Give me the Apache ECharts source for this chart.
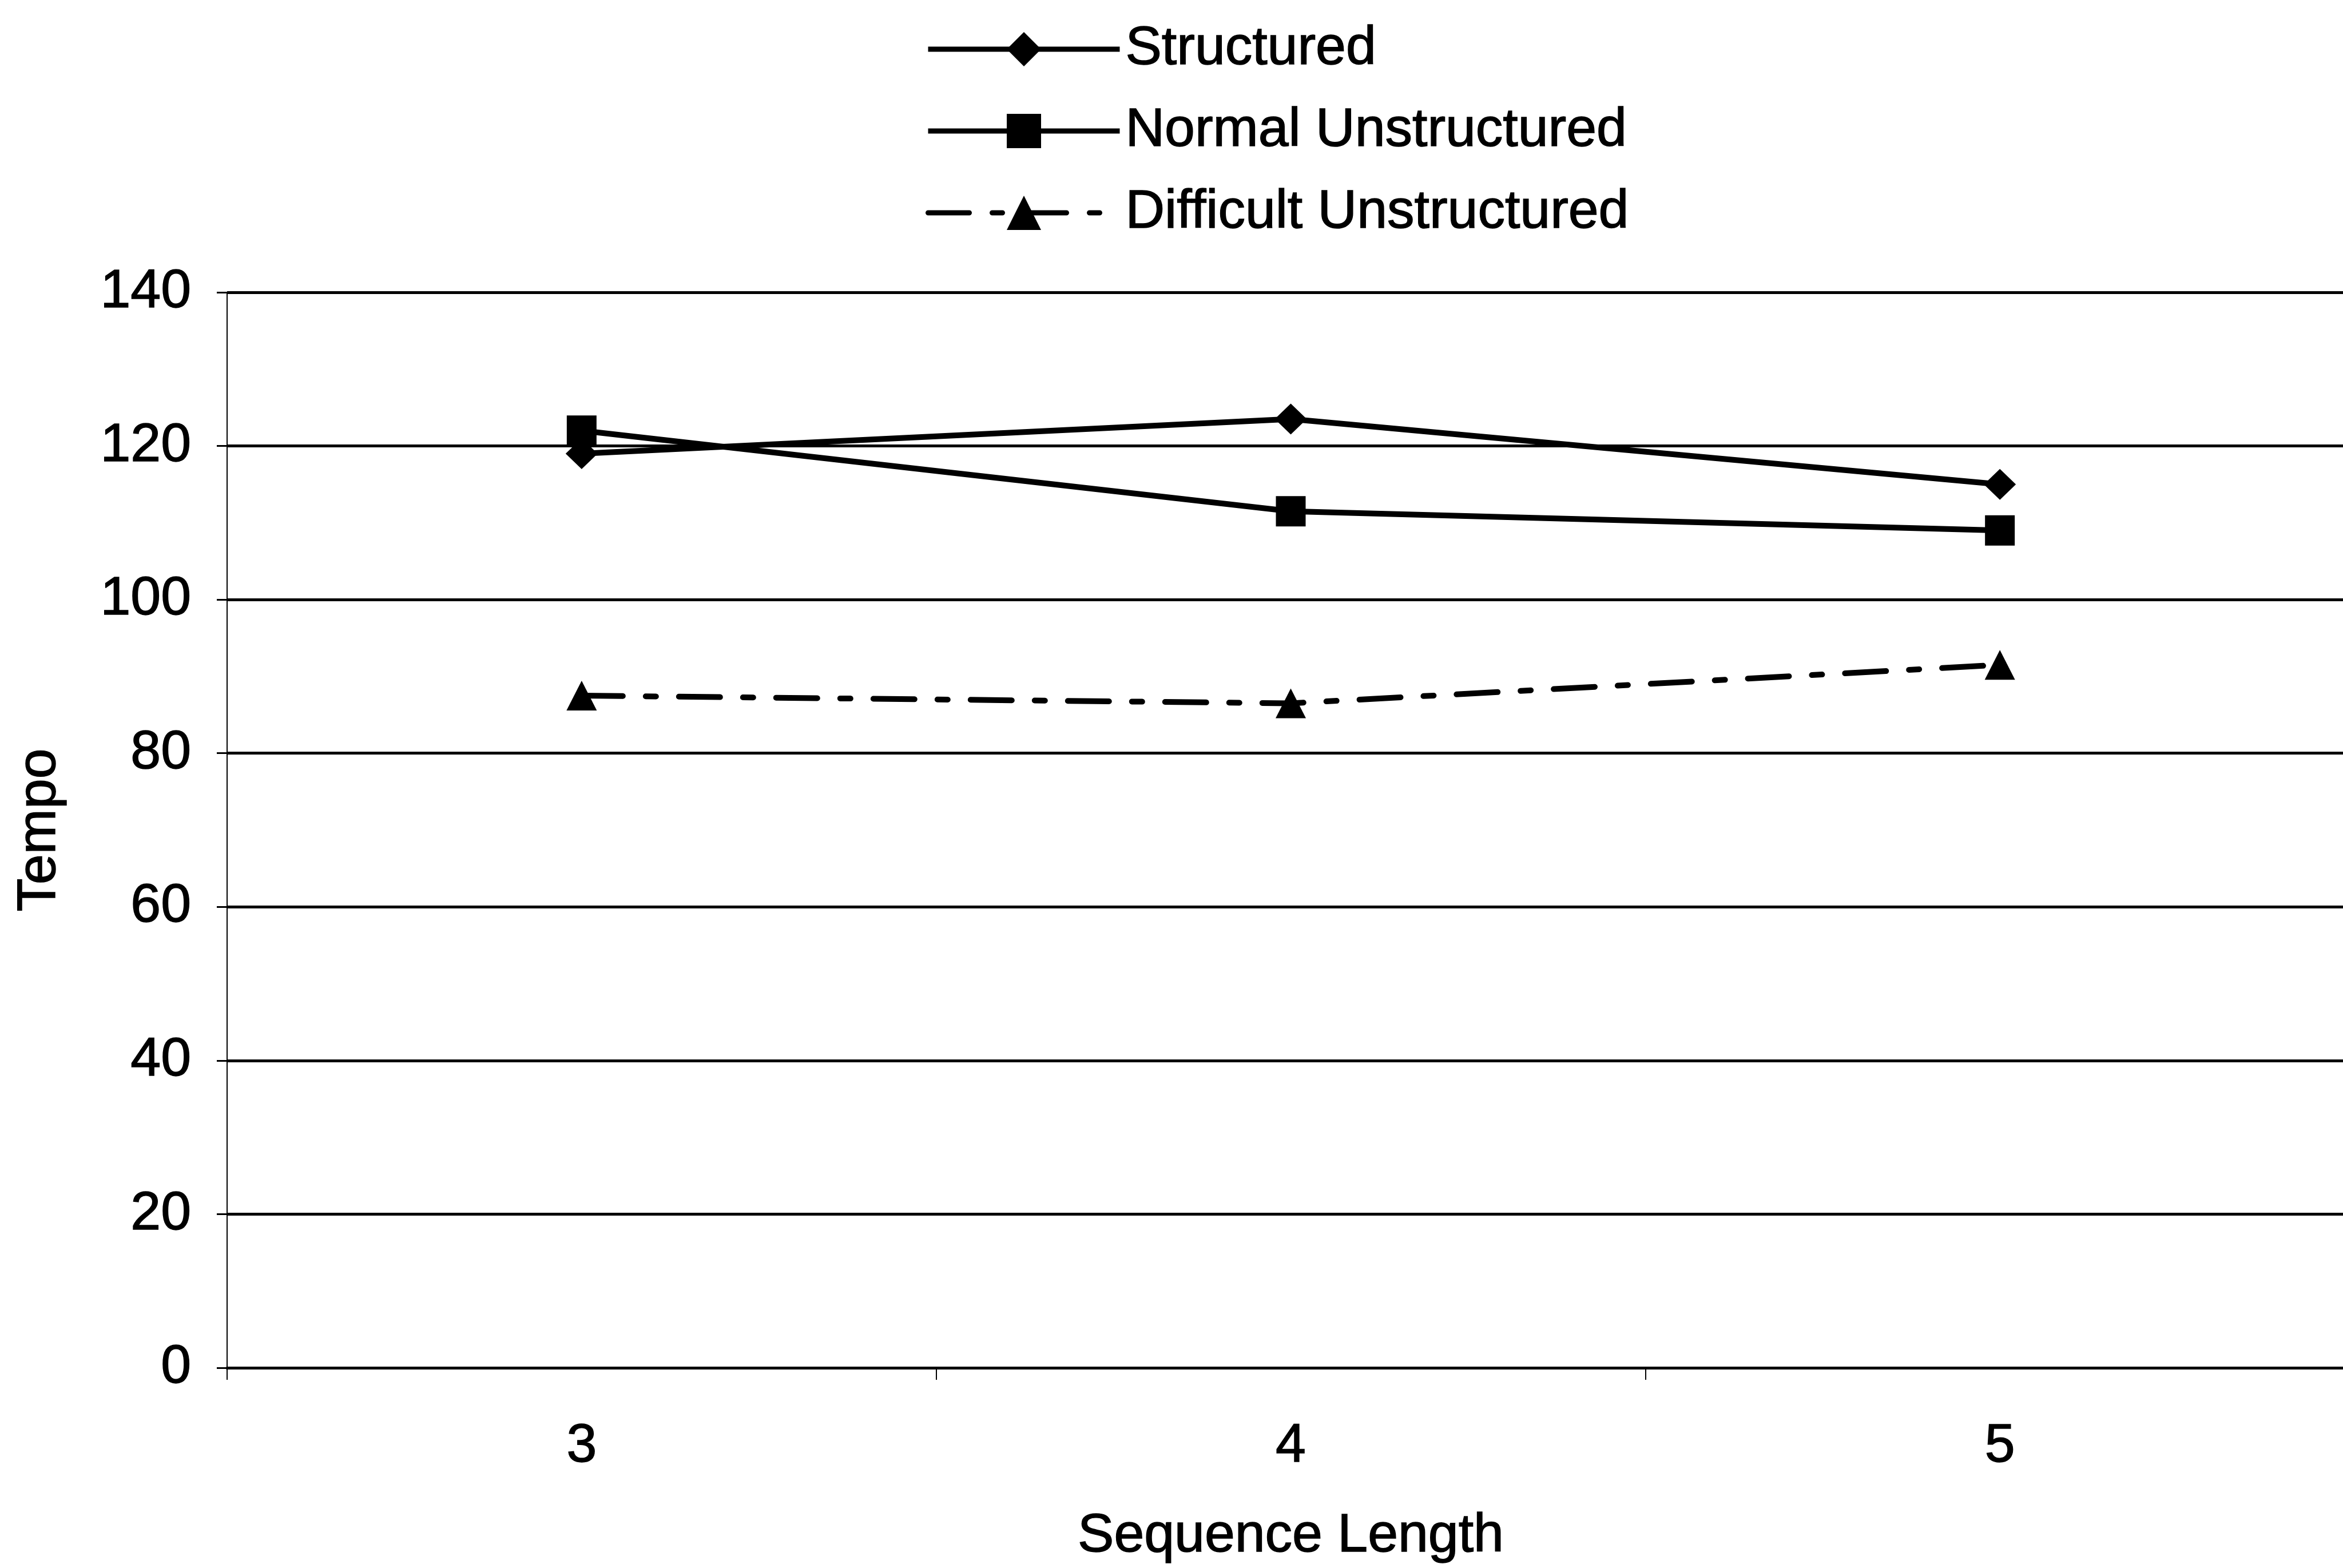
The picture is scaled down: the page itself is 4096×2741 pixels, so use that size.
<!DOCTYPE html>
<html>
<head>
<meta charset="utf-8">
<script src="https://cdn.jsdelivr.net/npm/echarts@6/dist/echarts.min.js"></script>
<style>
html,body{margin:0;padding:0;background:#fff;}
#chart{width:4096px;height:2741px;}
</style>
</head>
<body>
<div id="chart"></div>
<script>
const categories = ['3', '4', '5'];
const seriesNames = ['Structured', 'Normal Unstructured', 'Difficult Unstructured'];
const structured = [119, 123.5, 115];
const normalUnstructured = [122, 111.5, 109];
const difficultUnstructured = [87.5, 86.5, 91.5];
const yTicks = { min: 0, max: 140, interval: 20 };

const FONT = "'Liberation Sans', Arial, sans-serif";
const TXT = { fontFamily: FONT, fontSize: 95, color: '#000', textBorderColor: '#000', textBorderWidth: 1.5 };
const chart = echarts.init(document.getElementById('chart'), null, { renderer: 'canvas' });

chart.setOption({
  backgroundColor: '#fff',
  animation: false,
  legend: {
    orient: 'vertical',
    left: 1613,
    top: 31,
    itemWidth: 335,
    itemHeight: 75,
    itemGap: 43,
    lineStyle: { width: 9 },
    textStyle: Object.assign({}, TXT, { lineHeight: 100, padding: [0, 0, 0, 5] }),
    data: seriesNames
  },
  grid: {
    left: 397,
    right: -20,
    top: 511,
    bottom: 350,
    containLabel: false,
    outerBoundsMode: 'none'
  },
  xAxis: {
    type: 'category',
    data: categories,
    boundaryGap: true,
    name: 'Sequence Length',
    nameLocation: 'middle',
    nameGap: 247,
    nameTextStyle: TXT,
    axisLine: { show: true, lineStyle: { color: '#000', width: 5 } },
    axisTick: { show: true, length: 21, interval: 0, lineStyle: { color: '#000', width: 2 } },
    axisLabel: Object.assign({}, TXT, { margin: 90 }),
    splitLine: { show: false }
  },
  yAxis: {
    type: 'value',
    min: yTicks.min,
    max: yTicks.max,
    interval: yTicks.interval,
    name: 'Tempo',
    nameLocation: 'middle',
    nameGap: 280,
    nameTextStyle: TXT,
    axisLine: { show: true, lineStyle: { color: '#000', width: 2 } },
    axisTick: { show: true, length: 18, lineStyle: { color: '#000', width: 3 } },
    axisLabel: Object.assign({}, TXT, { margin: 63 }),
    splitLine: { show: true, lineStyle: { color: '#000', width: 5 } }
  },
  series: [
    {
      name: seriesNames[0],
      type: 'line',
      data: structured,
      symbol: 'diamond',
      symbolSize: [56, 54],
      lineStyle: { color: '#000', width: 10 },
      itemStyle: { color: '#000' },
      z: 3
    },
    {
      name: seriesNames[1],
      type: 'line',
      data: normalUnstructured,
      symbol: 'rect',
      symbolSize: [52, 53],
      lineStyle: { color: '#000', width: 10 },
      itemStyle: { color: '#000' },
      z: 4
    },
    {
      name: seriesNames[2],
      type: 'line',
      data: difficultUnstructured,
      symbol: 'triangle',
      symbolSize: [53, 52],
      lineStyle: { color: '#000', width: 10, type: [72, 40, 18, 40], cap: 'round' },
      itemStyle: { color: '#000' },
      z: 3
    }
  ]
});
</script>
</body>
</html>
